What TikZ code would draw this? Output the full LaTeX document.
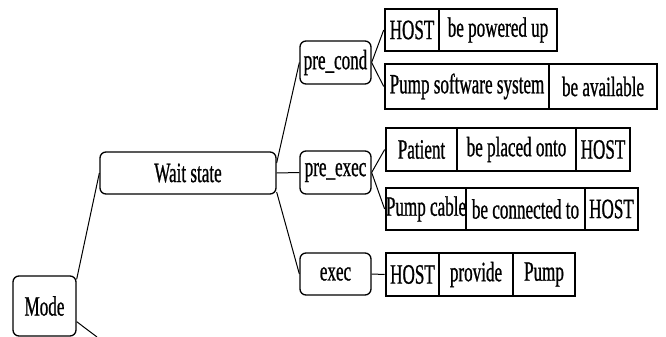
\documentclass[tikz,border=0pt]{standalone}
\usepackage{fontspec}
\setmainfont[FakeStretch=0.61,FakeBold=0.8]{Liberation Serif}
\begin{document}
\begin{tikzpicture}[x=1pt,y=-1pt,
  lbox/.style={draw, line width=1.3pt, rounded corners=6pt, inner sep=0pt, font=\fontsize{28}{28}\selectfont},
  verb/.style={draw, line width=1.1pt, inner sep=0pt, font=\fontsize{28}{28}\selectfont},
  noun/.style={draw, line width=2.6pt, inner sep=0pt, font=\fontsize{28}{28}\selectfont},
  conn/.style={line width=1pt}]
\useasboundingbox (0,0) rectangle (666,337);
% left tree boxes
\node[lbox, minimum width=63pt, minimum height=60pt] (mode) at (44.5,306) {Mode};
\node[lbox, minimum width=176pt, minimum height=42pt] (wait) at (188,173) {Wait state};
\node[lbox, minimum width=71pt, minimum height=43pt] (pcond) at (335.5,62.5) {pre\_cond};
\node[lbox, minimum width=71pt, minimum height=43pt] (pexec) at (335.5,172.5) {pre\_exec};
\node[lbox, minimum width=71pt, minimum height=42pt] (exec) at (335.5,274) {exec};
% row 1
\node[verb, minimum width=118pt, minimum height=42pt] (r1b) at (498,30) {be powered up};
\node[noun, minimum width=54pt, minimum height=42pt] (r1a) at (412,30) {HOST};
% row 2
\node[verb, minimum width=108pt, minimum height=45pt] (r2b) at (603,86.5) {be available};
\node[noun, minimum width=164pt, minimum height=45pt] (r2a) at (467,86.5) {Pump software system};
% row 3
\node[verb, minimum width=119pt, minimum height=43pt] (r3b) at (516.5,149.5) {be placed onto};
\node[noun, minimum width=71pt, minimum height=43pt] (r3a) at (421.5,149.5) {Patient};
\node[noun, minimum width=54pt, minimum height=43pt] (r3c) at (603,149.5) {HOST};
% row 4
\node[verb, minimum width=119pt, minimum height=42pt] (r4b) at (525.5,209) {be connected to};
\node[noun, minimum width=80pt, minimum height=42pt] (r4a) at (426,209) {Pump cable};
\node[noun, minimum width=53pt, minimum height=42pt] (r4c) at (611.5,209) {HOST};
% row 5
\node[verb, minimum width=74pt, minimum height=43pt] (r5b) at (476,274.5) {provide};
\node[noun, minimum width=53pt, minimum height=43pt] (r5a) at (412.5,274.5) {HOST};
\node[noun, minimum width=62pt, minimum height=43pt] (r5c) at (544,274.5) {Pump};
% connectors
\coordinate (mout) at (97,337);
\draw[conn] ([yshift=-4pt]mode.north east) -- (wait.west);
\draw[conn] ([yshift=15pt]mode.south east) -- (mout);
\draw[conn] ([yshift=10pt]wait.east) -- (pcond.west);
\draw[conn] (wait.east) -- (pexec.west);
\draw[conn] ([yshift=-19pt]wait.east) -- (exec.west);
\draw[conn] (pcond.east) -- (r1a.west);
\draw[conn] (pcond.east) -- (r2a.west);
\draw[conn] (pexec.east) -- (r3a.west);
\draw[conn] (pexec.east) -- (r4a.west);
\draw[conn] (exec.east) -- (r5a.west);
\end{tikzpicture}
\end{document}
